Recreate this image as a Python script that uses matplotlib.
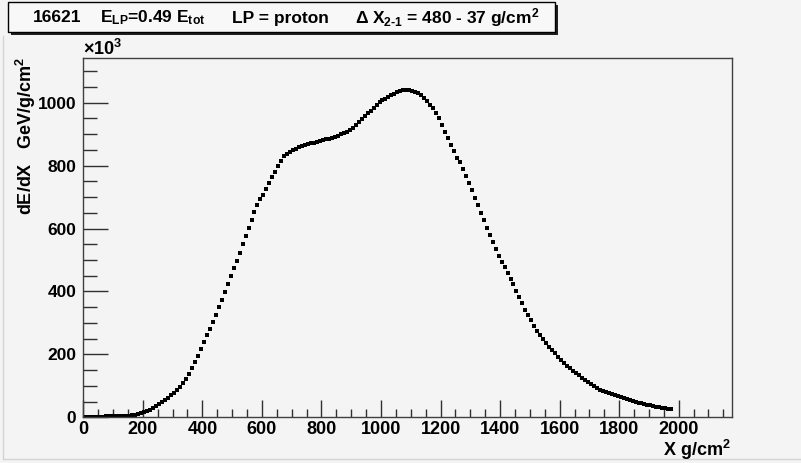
import numpy as np
import matplotlib
matplotlib.use("Agg")
import matplotlib.pyplot as plt
from matplotlib.patches import Rectangle
from matplotlib.lines import Line2D
from matplotlib.ticker import MultipleLocator

plt.rcParams['font.family'] = ['Liberation Sans', 'DejaVu Sans']
plt.rcParams['mathtext.fontset'] = 'custom'
plt.rcParams['mathtext.rm'] = 'Liberation Sans:bold'
plt.rcParams['mathtext.it'] = 'Liberation Sans:bold'
plt.rcParams['mathtext.bf'] = 'Liberation Sans:bold'
plt.rcParams['mathtext.sf'] = 'Liberation Sans:bold'

# ---- data (bin centres in g/cm^2, dE/dX in units of 10^3 GeV/g/cm^2) ----
bin_width = 10
bin_centers = list(range(5, 1990, bin_width))
dedx = [
    # 0-100
    1, 1, 2, 2, 2, 2, 2, 3, 3, 3,
    # 100-200
    3, 3, 3, 4, 4, 5, 6, 8, 10, 13,
    # 200-300
    16, 20, 24, 29, 35, 41, 48, 55, 62, 70,
    # 300-400
    78, 87, 97, 109, 123, 139, 157, 176, 196, 217,
    # 400-500
    239, 260, 281, 303, 326, 349, 373, 398, 423, 448,
    # 500-600
    473, 498, 523, 550, 575, 602, 628, 652, 675, 695,
    # 600-700
    708, 727, 745, 763, 781, 799, 815, 829, 838, 844,
    # 700-800
    849, 854, 858, 862, 865, 868, 871, 873, 875, 878,
    # 800-900
    880, 883, 886, 889, 892, 895, 899, 903, 908, 914,
    # 900-1000
    921, 930, 939, 948, 957, 966, 975, 984, 993, 1001,
    # 1000-1100
    1007, 1013, 1019, 1024, 1029, 1033, 1036, 1039, 1040, 1040,
    # 1100-1200
    1038, 1035, 1030, 1023, 1015, 1006, 994, 982, 967, 950,
    # 1200-1300 (start 1205)
    929, 908, 887, 866, 846, 825, 810, 790, 768, 746,
    # 1300-1400 (start 1315)
    722, 698, 674, 650, 627, 603, 580, 558, 536, 514,
    # 1400-1500 (start 1415)
    495, 477, 459, 441, 423, 403, 383, 362, 341, 325,
    # 1500-1600 (start 1515)
    308, 291, 275, 262, 249, 237, 225, 214, 203, 193,
    # 1600-1700 (start 1615)
    183, 173, 164, 156, 148, 140, 133, 126, 119, 112,
    # 1700-1800 (start 1715)
    105, 98, 92, 87, 83, 79, 76, 73, 70, 67,
    # 1800-1900 (start 1815)
    64, 61, 58, 55, 52, 49, 46, 44, 42, 40,
    # 1900-1990 (start 1915)
    38, 36, 34, 32, 30, 29, 27, 26,
]
n = min(len(bin_centers), len(dedx))
bin_centers = bin_centers[:n]
dedx = dedx[:n]

x_ticks = [0, 200, 400, 600, 800, 1000, 1200, 1400, 1600, 1800, 2000]
y_ticks = [0, 200, 400, 600, 800, 1000]

title_parts = [
    "16621",
    r"$E_{LP}$=0.49 $E_{tot}$",
    "LP = proton",
    r"$\Delta$ $X_{2\text{-}1}$ = 480 - 37 g/cm$^{2}$",
]

# ---- figure ----
W, H = 801, 463
bg = '#f4f4f4'
fig = plt.figure(figsize=(W / 100, H / 100), dpi=100, facecolor=bg)

def fx(px):
    return px / W

def fy(py):
    return 1 - py / H

left, right, top, bottom = 83.3, 732.3, 58.0, 417.3
ax = fig.add_axes([fx(left), fy(bottom), fx(right) - fx(left), fy(top) - fy(bottom)])
ax.set_facecolor(bg)

ax.plot(bin_centers, dedx, ls='none', marker='s', ms=2.4, mew=0, color='black')

ax.set_xlim(0, 2180)
ax.set_ylim(0, 1142)
ax.set_xticks(x_ticks)
ax.set_yticks(y_ticks)
ax.xaxis.set_minor_locator(MultipleLocator(50))
ax.yaxis.set_minor_locator(MultipleLocator(50))
ax.tick_params(axis='x', which='major', direction='in', length=12, width=1,
               color='#303030', labelsize=13, pad=3)
ax.tick_params(axis='x', which='minor', direction='in', length=6, width=1, color='#303030')
ax.tick_params(axis='y', which='major', direction='in', length=18, width=1,
               color='#303030', labelsize=12.5, pad=5)
ax.tick_params(axis='y', which='minor', direction='in', length=10, width=1, color='#303030')
for lab in ax.get_xticklabels() + ax.get_yticklabels():
    lab.set_fontweight('bold')
for s in ax.spines.values():
    s.set_color('#404040')
    s.set_linewidth(1.0)

# multiplier
fig.text(fx(83), fy(49), r"$\times$10$^{3}$", fontsize=13, fontweight='bold',
         ha='left', va='center')

# axis titles
fig.text(fx(26), fy(57), r"dE/dX   GeV/g/cm$^{2}$", rotation=90, fontsize=13,
         fontweight='bold', ha='center', va='top')
fig.text(fx(731), fy(456), r"X g/cm$^{2}$", fontsize=13, fontweight='bold',
         ha='right', va='baseline')

# title box with shadow
bx0, by0, bx1, by1 = 8, 2, 555, 32
shadow = Rectangle((fx(bx0 + 3), fy(by1 + 3)), fx(bx1) - fx(bx0), fy(by0) - fy(by1),
                   transform=fig.transFigure, facecolor='#202020', edgecolor='none', zorder=5)
box = Rectangle((fx(bx0), fy(by1)), fx(bx1) - fx(bx0), fy(by0) - fy(by1),
                transform=fig.transFigure, facecolor='#f8f8f8', edgecolor='black',
                linewidth=1.0, zorder=6)
fig.patches.extend([shadow, box])
xs = [33, 100, 232, 355]
for xp, t in zip(xs, title_parts):
    fig.text(fx(xp), fy(18), t, fontsize=12.5, fontweight='bold', ha='left',
             va='center', zorder=7)

# faint canvas border lines
fig.lines.append(Line2D([fx(3), fx(3)], [fy(36), fy(459)], transform=fig.transFigure,
                        color='#d4d4d4', lw=1))
fig.lines.append(Line2D([fx(3), fx(800)], [fy(459), fy(459)], transform=fig.transFigure,
                        color='#d4d4d4', lw=1))

fig.savefig("out.png", dpi=100, facecolor=bg)
